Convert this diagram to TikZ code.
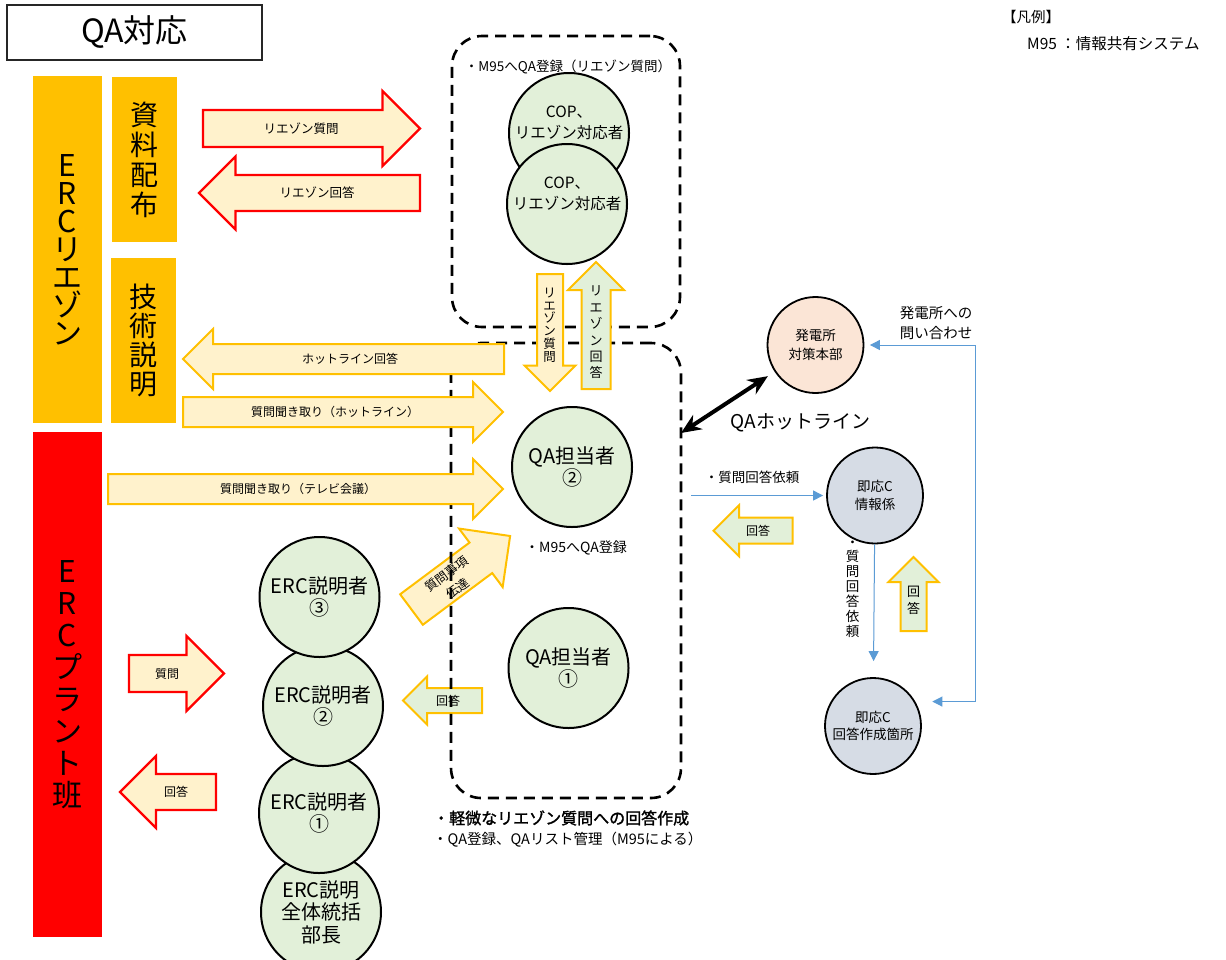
\documentclass[tikz,border=0pt]{standalone}
\usepackage{fontspec}
\setmainfont{Noto Sans CJK JP}
\newfontfamily\jpbold{Noto Sans CJK JP}[FakeBold=1.5]
\usetikzlibrary{arrows.meta, positioning}

\definecolor{barorange}{HTML}{FFC000}
\definecolor{barred}{HTML}{FF0000}
\definecolor{gold}{HTML}{FFC000}
\definecolor{paleyellow}{HTML}{FFF2CC}
\definecolor{palegreen}{HTML}{E2F0D9}
\definecolor{palepeach}{HTML}{FBE5D6}
\definecolor{palegray}{HTML}{D6DCE5}
\definecolor{lineblue}{HTML}{5B9BD5}

\newcommand{\fsz}[2]{\fontsize{#1pt}{#2pt}\selectfont}
% block arrow: [style]{tail x}{tail y}{angle}{length}{shaft}{head}
\newcommand{\blockarrow}[7][]{%
  \draw[#1,shift={(#2,#3)},rotate=#4]
    ({0},{#6/2}) -- ({#5-#7/2},{#6/2}) -- ({#5-#7/2},{#7/2}) -- ({#5},{0})
    -- ({#5-#7/2},{-#7/2}) -- ({#5-#7/2},{-#6/2}) -- ({0},{-#6/2}) -- cycle;}

\tikzset{
  bar/.style={fill=#1, inner sep=0pt, align=center},
  sheet/.style={draw=black!85, line width=2pt, font=\fsz{32}{34}},
  redarrow/.style={draw=barred, fill=paleyellow, line width=2.2pt},
  ylwarrow/.style={draw=gold, fill=paleyellow, line width=2pt},
  grnarrow/.style={draw=gold, fill=palegreen, line width=2pt},
  arrowtext/.style={font=\fsz{12}{15}, align=center, inner sep=0pt},
  person/.style={circle, draw, line width=2pt, fill=palegreen, minimum size=120pt,
    inner sep=0pt, align=center, font=\fsz{20}{22}},
  copname/.style={yshift=10pt, align=center, font=\fsz{15.5}{21}},
  office/.style={circle, draw, line width=1.8pt, minimum size=96pt, inner sep=0pt,
    align=center, font=\fsz{13.5}{17.5}},
  dashbox/.style={draw, dash pattern=on 11pt off 7pt, line width=2.6pt,
    rounded corners=30pt, inner sep=0pt},
  note/.style={font=\fsz{13.5}{16}, align=center, inner sep=0pt},
  hotline/.style={line width=4pt, arrows={Stealth[length=20pt,width=17pt]-Stealth[length=20pt,width=17pt]}},
  bluetip/.tip={Triangle[length=10pt,width=10pt]},
  blueline/.style={draw=lineblue, line width=1pt, -bluetip},
}

\begin{document}
\begin{tikzpicture}[x=1pt,y=-1pt]
\path[use as bounding box, fill=white] (0,0) rectangle (1226,959);

% arrows lying under the dashed frame
\blockarrow[ylwarrow]{411.5}{609.5}{36.7}{123}{38}{73}
\blockarrow[grnarrow]{482}{700.5}{180}{79}{25}{48}

\node[dashbox, minimum width=228pt, minimum height=291pt] (copbox) at (566,181.5) {};
\node[dashbox, minimum width=230pt, minimum height=455pt] (qabox) at (566,570.5) {};

\node[sheet, minimum width=255pt, minimum height=55pt] (title) at (134.5,32.5) {QA対応};
\node[anchor=west, inner sep=0pt, font=\fsz{14.5}{16}] (legend) at (1002,17) {【凡例】};
\node[anchor=west, inner sep=0pt, font=\fsz{15.5}{16}] (legendm) at (1027,44) {M95\ ：情報共有システム};

\node[bar=barorange, minimum width=69pt, minimum height=347pt, font=\fsz{30}{28}] (liaison) at (67.5,249.5) {E\\R\\C\\リ\\エ\\ゾ\\ン};
\node[bar=barorange, minimum width=65pt, minimum height=165pt, font=\fsz{28}{30}] (docs) at (144.5,159.5) {資\\料\\配\\布};
\node[bar=barorange, minimum width=65pt, minimum height=165pt, font=\fsz{28}{29}] (tech) at (143.5,340.5) {技\\術\\説\\明};
\node[bar=barred, minimum width=69pt, minimum height=505pt, font=\fsz{30}{32}] (plant) at (67.5,684.5) {E\\R\\C\\プ\\ラ\\ン\\ト\\班};

\blockarrow[redarrow]{203}{128.5}{0}{217}{37}{75}
\blockarrow[redarrow]{420}{193}{180}{221}{36}{73}
\blockarrow[ylwarrow]{504}{359}{180}{321}{30}{60}
\blockarrow[ylwarrow]{183}{412}{0}{320}{30}{60}
\blockarrow[ylwarrow]{108}{489}{0}{395}{30}{60}
\blockarrow[ylwarrow]{550}{274}{-90}{117}{26}{51}
\blockarrow[grnarrow]{596}{389}{90}{127}{29}{56}
\blockarrow[grnarrow]{792.5}{530.7}{180}{79}{26}{51}
\blockarrow[grnarrow]{913.5}{631}{90}{74}{26}{50}
\blockarrow[redarrow]{129}{673.5}{0}{95}{37}{75}
\blockarrow[redarrow]{216}{792}{180}{96}{36}{72}

\node[arrowtext, font=\fsz{12.5}{15}] (lq1) at (301,128.5) {リエゾン質問};
\node[arrowtext, font=\fsz{12.5}{15}] (la1) at (317,193) {リエゾン回答};
\node[arrowtext] (hla) at (350,359) {ホットライン回答};
\node[arrowtext] (hlq) at (335,412) {質問聞き取り（ホットライン）};
\node[arrowtext] (tvq) at (298,489) {質問聞き取り（テレビ会議）};
\node[arrowtext, font=\fsz{12.5}{12.8}] (lq2) at (549.5,325) {リ\\エ\\ゾ\\ン\\質\\問};
\node[arrowtext, font=\fsz{13}{16.4}] (la2) at (596,332.5) {リ\\エ\\ゾ\\ン\\回\\答};
\node[arrowtext, font=\fsz{12.5}{18}, rotate=36.7] (relay) at (452,581) {質問事項\\伝達};
\node[arrowtext] (ans1) at (448,700.5) {回答};
\node[arrowtext] (ans2) at (758,530.7) {回答};
\node[arrowtext, font=\fsz{13}{16.7}] (ans3) at (913.5,600) {回\\答};
\node[arrowtext] (ask) at (167,673.5) {質問};
\node[arrowtext] (ans4) at (176,792) {回答};

\node[person, label={[copname]center:{COP、\\リエゾン対応者}}] (cop1) at (569,133) {};
\node[person, label={[copname]center:{COP、\\リエゾン対応者}}] (cop2) at (567,204) {};
\node[person] (qa2) at (572,467) {QA担当者\\②};
\node[person] (qa1) at (568.5,668) {QA担当者\\①};
\node[person, font=\fsz{20}{22.5}] (erc0) at (321,912) {ERC説明\\全体統括\\部長};
\node[person] (erc1) at (319,813) {ERC説明者\\①};
\node[person] (erc2) at (323,706) {ERC説明者\\②};
\node[person] (erc3) at (319.5,597) {ERC説明者\\③};

\node[office, fill=palepeach, font=\fsz{13.5}{19}] (hq) at (815.5,345) {発電所\\対策本部};
\node[office, fill=palegray] (sc1) at (875,495.5) {即応C\\情報係};
\node[office, fill=palegray, font=\fsz{13.5}{16.7}] (sc2) at (873,726) {即応C\\回答作成箇所};

\coordinate (hl) at (681,433);
\draw[hotline, shorten >=8pt] (hl) -- (hq);
\node[font=\fsz{19}{22}, inner sep=0pt] (hotlabel) at (800.5,423) {QAホットライン};

\coordinate (qreq) at (691,495.5);
\draw[blueline, shorten >=3pt] (qreq) -- (sc1);
\node[note] (reqlabel) at (752,477) {・質問回答依頼};
\draw[blueline, shorten >=16pt] (sc1) -- (sc2);
\node[note, font=\fsz{13.5}{14.9}] (reqvert) at (852.5,589) {・\\質\\問\\回\\答\\依\\頼};
\coordinate (askr) at (975,520);
\draw[blueline, bluetip-bluetip, shorten <=5.5pt, shorten >=17pt] (hq.east) -| (askr) |- (sc2.30);
\node[note, font=\fsz{14.5}{20}] (asklabel) at (936,323) {発電所への\\問い合わせ};

\node[note] (copnote) at (568,67) {・M95へQA登録（リエゾン質問）};
\node[note, font=\fsz{14}{16}] (qanote) at (576,548) {・M95へQA登録};
\node[anchor=west, inner sep=0pt, font=\jpbold\fsz{16}{18}] (tasknote) at (433,818) {・軽微なリエゾン質問への回答作成};
\node[anchor=west, inner sep=0pt, font=\fsz{14.5}{17}] (listnote) at (433,840) {・QA登録、QAリスト管理（M95による）};
\end{tikzpicture}
\end{document}
